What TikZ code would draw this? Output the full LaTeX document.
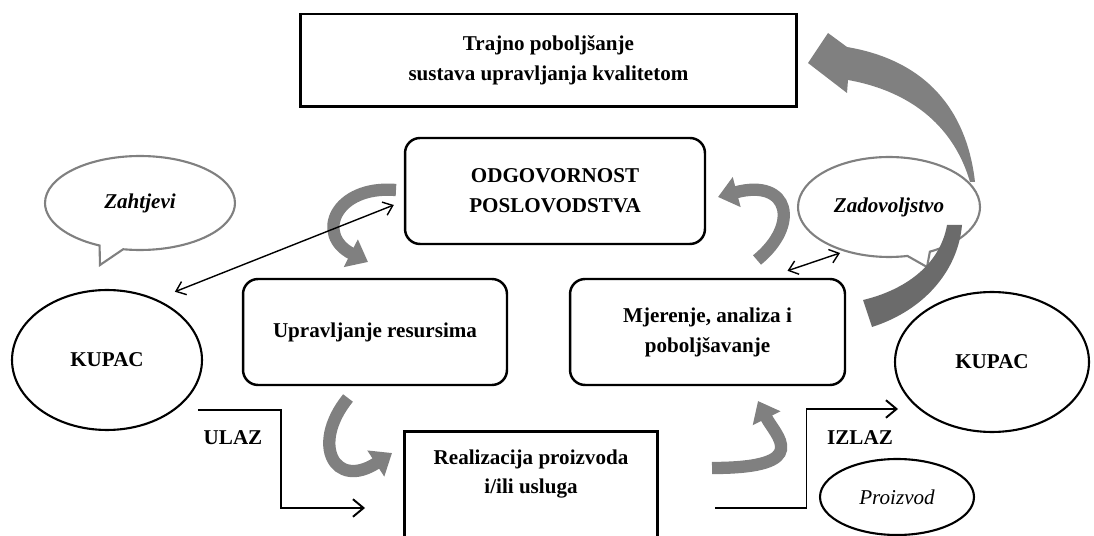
\documentclass[tikz,border=0pt]{standalone}
\usepackage{fontspec}
\setmainfont{Liberation Serif}
\usetikzlibrary{arrows.meta,shapes.geometric,shapes.callouts,calc}
\newcommand{\fs}{\fontsize{12}{17}\selectfont\bfseries}
\definecolor{arrgray}{gray}{0.50}
\definecolor{darkgray}{gray}{0.42}

\begin{document}
\begin{tikzpicture}[x=0.02cm,y=-0.02cm,
  sqbox/.style={draw,line width=1.7pt,align=center,font=\fs},
  rbox/.style={draw,line width=1.4pt,rounded corners=0.3cm,minimum height=2.12cm,align=center,font=\fs},
  kup/.style={ellipse,draw,line width=1.2pt,font=\fs},
  bub/.style={ellipse callout,draw=arrgray,line width=1.2pt,fill=white,font=\fs\itshape},
  garrow/.style={draw=arrgray,line width=7pt,-{Triangle[width=17pt,length=11pt]}},
  thin/.style={line width=0.8pt,{Straight Barb[length=5pt,width=8pt]}-{Straight Barb[length=5pt,width=8pt]}},
  flow/.style={line width=1.1pt,-{Straight Barb[length=6pt,width=10pt]}}]
  \clip (0,0) rectangle (1094,536);

  \node[sqbox,minimum width=9.94cm,minimum height=1.86cm] (trajno) at (548.5,60.5) {Trajno poboljšanje\\sustava upravljanja kvalitetom};
  \node[rbox,minimum width=6.0cm ] (odg)   at (555,191)   {ODGOVORNOST\\POSLOVODSTVA};
  \node[rbox,minimum width=5.28cm] (uprav) at (375,332)   {Upravljanje resursima};
  \node[rbox,minimum width=5.5cm ] (mjer)  at (707.5,332) {Mjerenje, analiza i\\poboljšavanje};
  \node[sqbox,minimum width=5.08cm,anchor=north,inner ysep=0.36cm,text depth=2cm] (real) at (531,430) {Realizacija proizvoda\\i/ili usluga};

  \node[kup,minimum width=3.8cm ,minimum height=2.8cm] (kupacL) at (107,360) {KUPAC};
  \node[kup,minimum width=3.88cm,minimum height=2.8cm] (kupacR) at (992,362) {KUPAC};
  \node[ellipse,draw,line width=1.2pt,minimum width=3.08cm,minimum height=1.52cm,
        font=\fontsize{12}{17}\selectfont\itshape] (proizv) at (897,497) {Proizvod};

  \node[bub,minimum width=3.8cm ,minimum height=1.88cm,callout absolute pointer={(100,265)}] (zaht)  at (140,203) {Zahtjevi};
  \node[bub,minimum width=3.64cm,minimum height=2.0cm ,callout absolute pointer={(927,267)}] (zadov) at (889,207) {Zadovoljstvo};

  \node[font=\fs] (ulaz)  at (233,438) {ULAZ};
  \node[font=\fs] (izlaz) at (860,438) {IZLAZ};

  \draw[garrow] (396,190) .. controls (335,185) and (315,235) .. (368,262);
  \draw[garrow] (348,398) .. controls (310,445) and (335,490) .. (392,453);
  \draw[garrow] (712,468) .. controls (815,468) and (775,435) .. (758,401);
  \draw[garrow] (757,260) .. controls (800,225) and (790,178) .. (718,197);

  \fill[darkgray] (872,327) .. controls (925,310) and (958,270) .. (962,225)
        -- (947,225) .. controls (940,265) and (905,290) .. (863,300) -- cycle;
  \fill[arrgray] (975,182) .. controls (968,120) and (935,62) .. (847,47)
        -- (828,33) -- (808,63) -- (847,93) -- (848,80)
        .. controls (915,92) and (955,130) .. (970,182) -- cycle;

  \draw[thin] ($(kupacL.north east)+(0,-18)$) -- ($(odg.west)+(-10,14)$);
  \draw[thin] ($(mjer.north)+(80,-7)$) -- ($(zadov.center)+(-49,46)$);

  \coordinate (ulaz0)  at ($(kupacL.south east)+(23,0)$);
  \coordinate (ulaz1)  at (365,508);
  \coordinate (izlaz0) at (715,508);
  \coordinate (izlaz1) at (898,409);
  \draw[flow] (ulaz0)  -| ($(ulaz0)!0.5!(ulaz1)$)   |- (ulaz1);
  \draw[flow] (izlaz0) -| ($(izlaz0)!0.5!(izlaz1)$) |- (izlaz1);
\end{tikzpicture}
\end{document}
